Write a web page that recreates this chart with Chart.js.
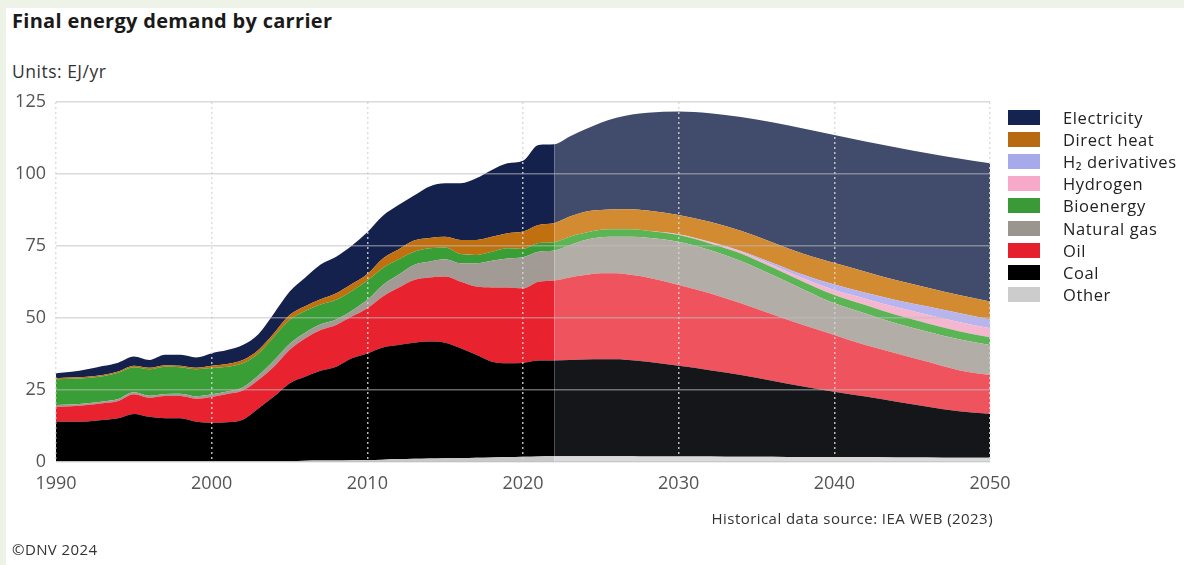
<!DOCTYPE html>
<html>
<head>
<meta charset="utf-8">
<title>Final energy demand by carrier</title>
<script src="https://cdn.jsdelivr.net/npm/chart.js@4.4.1/dist/chart.umd.min.js"></script>
<style>
  html, body { margin: 0; padding: 0; }
  body { width: 1184px; height: 565px; background: #eef3e8; position: relative; overflow: hidden;
         font-family: "Open Sans", Lato, sans-serif; color: #222; }
  #panel { position: absolute; left: 6px; top: 8px; right: 0; bottom: 0; background: #fff; }
  #chart { position: absolute; left: 0; top: 0; }
  .txt { position: absolute; white-space: nowrap; line-height: 1; }
  #title { left: 12px; top: 11px; font-size: 20px; font-weight: 700; color: #1a1a1a; letter-spacing: 0.3px; }
  #units { left: 12px; top: 63px; font-size: 17.5px; color: #333; letter-spacing: 0.5px; }
  #source { right: 191px; top: 511px; font-size: 15px; color: #333; letter-spacing: 0.45px; }
  #copy { left: 12px; top: 542px; font-size: 15px; color: #333; letter-spacing: 0.4px; }
  #legend { position: absolute; left: 1008px; top: 106px; }
  .row { height: 22.2px; display: flex; align-items: center; font-size: 16.5px; color: #222; letter-spacing: 0.6px; }
  .box { width: 32px; height: 15px; margin-right: 23px; }
</style>
</head>
<body>
<div id="panel"></div>
<div class="txt" id="title">Final energy demand by carrier</div>
<div class="txt" id="units">Units: EJ/yr</div>
<canvas id="chart" width="1184" height="565"></canvas>
<div id="legend"></div>
<div class="txt" id="source">Historical data source: IEA WEB (2023)</div>
<div class="txt" id="copy">©DNV 2024</div>
<script>
// years (historic to 2022, projection after)
const years = [1990, 1991, 1992, 1993, 1994, 1995, 1996, 1997, 1998, 1999,
               2000, 2001, 2002, 2003, 2004, 2005, 2006, 2007, 2008, 2009,
               2010, 2011, 2012, 2013, 2014, 2015, 2016, 2017, 2018, 2019,
               2020, 2021, 2022, 2023, 2024, 2025, 2026, 2027, 2028,
               2030, 2032, 2034, 2036, 2038, 2040, 2042, 2044, 2046, 2048, 2050];
const lastHistoricYear = 2022;

// EJ/yr per carrier
const other = [0.3, 0.3, 0.3, 0.3, 0.3, 0.3, 0.3, 0.3, 0.3, 0.3,
               0.3, 0.3, 0.3, 0.3, 0.3, 0.3, 0.4, 0.5, 0.5, 0.6,
               0.7, 0.8, 1.0, 1.1, 1.2, 1.3, 1.4, 1.5, 1.6, 1.7,
               1.8, 1.9, 2.0, 2.0, 2.0, 2.0, 2.0, 2.0, 1.9,
               1.9, 1.9, 1.8, 1.8, 1.7, 1.7, 1.7, 1.6, 1.6, 1.5, 1.5];
const coal = [13.7, 13.7, 13.8, 14.3, 14.9, 16.4, 15.4, 14.9, 14.9, 13.7,
              13.3, 13.5, 14.4, 18.3, 22.4, 27.0, 29.2, 31.2, 32.6, 35.4,
              37.0, 39.0, 39.6, 40.3, 40.6, 40.1, 38.1, 35.7, 33.2, 32.6,
              32.6, 33.3, 33.2, 33.4, 33.6, 33.7, 33.7, 33.3, 32.9,
              31.5, 30.0, 28.4, 26.4, 24.5, 22.7, 21.0, 19.3, 17.6, 16.1, 15.2];
const oil = [5.2, 5.4, 5.7, 5.8, 6.0, 6.8, 6.6, 7.7, 7.7, 8.0,
             9.0, 9.8, 10.1, 9.9, 10.4, 11.6, 13.3, 14.1, 14.5, 14.5,
             15.7, 17.7, 19.9, 21.8, 22.3, 23.0, 23.1, 23.7, 25.8, 26.3,
             25.9, 27.4, 27.8, 28.7, 29.3, 29.8, 29.8, 29.6, 29.3,
             28.1, 26.7, 24.9, 23.1, 21.4, 19.7, 17.9, 16.8, 15.6, 14.3, 13.5];
const naturalGas = [0.6, 0.6, 0.6, 0.6, 0.7, 0.7, 0.7, 0.7, 0.8, 0.8,
                    0.9, 0.9, 1.1, 1.5, 2.1, 2.1, 2.0, 2.0, 1.9, 2.0,
                    2.9, 4.0, 4.5, 5.2, 5.5, 6.0, 6.4, 8.1, 9.3, 10.1,
                    10.8, 10.4, 10.4, 11.2, 12.2, 12.5, 12.7, 13.3, 13.8,
                    15.0, 15.0, 14.7, 13.7, 12.3, 11.0, 11.0, 10.4, 10.4, 10.7, 10.4];
const bioenergy = [8.9, 8.9, 8.8, 8.8, 9.1, 8.7, 9.2, 9.5, 9.2, 9.4,
                   9.1, 8.6, 8.4, 7.7, 8.3, 8.3, 7.5, 6.9, 6.8, 6.9,
                   6.7, 5.9, 5.3, 4.6, 4.6, 4.1, 3.2, 2.9, 3.1, 3.5,
                   2.9, 3.0, 2.9, 2.9, 2.5, 2.6, 2.6, 2.6, 2.4,
                   2.3, 2.3, 2.6, 2.6, 2.7, 2.9, 2.9, 2.9, 2.9, 2.8, 2.7];
const hydrogen = [0, 0, 0, 0, 0, 0, 0, 0, 0, 0,
                  0, 0, 0, 0, 0, 0, 0, 0, 0, 0,
                  0, 0, 0, 0, 0, 0, 0, 0, 0, 0,
                  0, 0, 0, 0, 0, 0, 0, 0, 0,
                  0.2, 0.4, 0.6, 0.8, 1.2, 1.7, 2.2, 2.7, 3.0, 3.2, 3.1];
const h2Derivatives = [0, 0, 0, 0, 0, 0, 0, 0, 0, 0,
                       0, 0, 0, 0, 0, 0, 0, 0, 0, 0,
                       0, 0, 0, 0, 0, 0, 0, 0, 0, 0,
                       0, 0, 0, 0, 0, 0, 0, 0, 0,
                       0.1, 0.2, 0.3, 0.8, 1.2, 1.9, 2.1, 2.5, 2.9, 3.1, 3.1];
const directHeat = [0.4, 0.4, 0.4, 0.4, 0.4, 0.5, 0.5, 0.5, 0.5, 0.5,
                    0.8, 0.9, 1.1, 1.2, 1.2, 1.7, 1.7, 1.8, 2.3, 2.4,
                    2.3, 3.3, 3.5, 3.9, 3.6, 3.7, 4.9, 5.2, 5.2, 5.2,
                    6.0, 6.3, 6.6, 7.0, 7.3, 6.9, 7.0, 7.0, 7.0,
                    6.7, 6.9, 7.0, 7.1, 7.3, 7.5, 7.3, 6.9, 6.5, 6.3, 6.2];
const electricity = [1.7, 2.0, 2.6, 3.1, 3.1, 3.2, 2.7, 3.6, 3.8, 3.6,
                     4.4, 4.9, 5.2, 5.5, 6.9, 8.1, 9.9, 12.1, 12.7, 13.3,
                     14.5, 14.8, 15.4, 15.6, 17.9, 18.6, 19.7, 21.4, 23.2, 24.3,
                     24.6, 27.8, 27.4, 27.8, 28.6, 30.3, 31.7, 32.9, 34.0,
                     35.9, 37.7, 39.5, 41.7, 43.5, 44.4, 45.2, 46.1, 46.7, 47.4, 48.0];

const yTicks = [0, 25, 50, 75, 100, 125];
const xTicks = [1990, 2000, 2010, 2020, 2030, 2040, 2050];

// bottom of the stack first
const series = [
  { name: 'Other',          data: other,         hist: '#c9c9c9', proj: '#dadada', key: '#cccccc' },
  { name: 'Coal',           data: coal,          hist: '#000000', proj: '#141619', key: '#000000' },
  { name: 'Oil',            data: oil,           hist: '#e8222e', proj: '#ef535d', key: '#e5202c' },
  { name: 'Natural gas',    data: naturalGas,    hist: '#a29b95', proj: '#b3ada7', key: '#9b958f' },
  { name: 'Bioenergy',      data: bioenergy,     hist: '#3a9e36', proj: '#5cb555', key: '#3a9a38' },
  { name: 'Hydrogen',       data: hydrogen,      hist: '#f5b6d0', proj: '#f5b6d0', key: '#f6a9c9' },
  { name: 'H₂ derivatives', data: h2Derivatives, hist: '#b7b4f0', proj: '#b7b4f0', key: '#a6aaea' },
  { name: 'Direct heat',    data: directHeat,    hist: '#c0700f', proj: '#d38b31', key: '#b86a12' },
  { name: 'Electricity',    data: electricity,   hist: '#14214d', proj: '#414c6d', key: '#14234f' }
];

const datasets = series.map((s, i) => ({
  label: s.name,
  data: s.data.map((v, j) => ({ x: years[j], y: v })),
  backgroundColor: s.hist,
  borderWidth: 0,
  pointRadius: 0,
  fill: i === 0 ? 'origin' : '-1',
  cubicInterpolationMode: 'monotone',
  segment: {
    backgroundColor: ctx => ctx.p0.parsed.x >= lastHistoricYear ? s.proj : s.hist
  }
}));

// legend, top of the stack first
const legend = document.getElementById('legend');
series.slice().reverse().forEach(s => {
  const row = document.createElement('div');
  row.className = 'row';
  row.innerHTML = `<span class="box" style="background:${s.key}"></span><span>${s.name}</span>`;
  legend.appendChild(row);
});

new Chart(document.getElementById('chart'), {
  type: 'line',
  data: { datasets: datasets },
  options: {
    responsive: false,
    animation: false,
    events: [],
    layout: { padding: { left: 0, top: 102, right: 194, bottom: 63 } },
    plugins: { legend: { display: false }, tooltip: { enabled: false } },
    scales: {
      x: {
        type: 'linear',
        min: 1990,
        max: 2050,
        afterFit: s => { s.height = 40; },
        afterBuildTicks: s => { s.ticks = xTicks.map(v => ({ value: v })); },
        ticks: {
          padding: 11,
          color: '#555',
          font: { family: 'Open Sans', size: 18 },
          callback: v => String(v),
          maxRotation: 0
        },
        grid: { color: 'rgba(215,215,215,0.85)', lineWidth: 1.5, drawTicks: false, z: 1 },
        border: { display: false, dash: [2, 3] }
      },
      y: {
        stacked: true,
        min: 0,
        max: 125,
        afterFit: s => { s.width = 56; },
        afterBuildTicks: s => { s.ticks = yTicks.map(v => ({ value: v })); },
        ticks: {
          padding: 10,
          color: '#555',
          font: { family: 'Open Sans', size: 18 }
        },
        grid: { color: 'rgba(190,190,190,0.55)', lineWidth: 1.5, drawTicks: false, z: 1 },
        border: { display: false }
      }
    }
  }
});
</script>
</body>
</html>
